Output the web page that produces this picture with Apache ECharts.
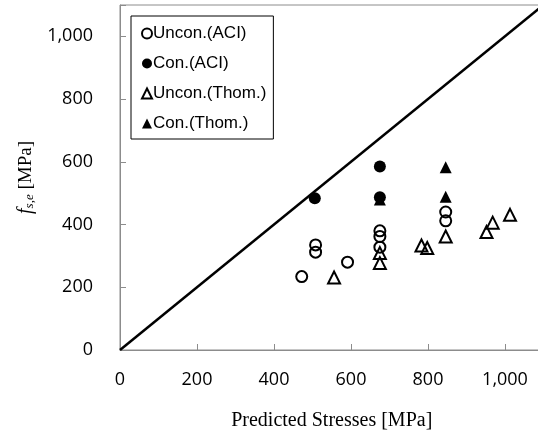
<!DOCTYPE html>
<html><head><meta charset="utf-8">
<script src="https://cdn.jsdelivr.net/npm/echarts@6/dist/echarts.min.js"></script>
<style>html,body{margin:0;padding:0;background:#fff}#c{width:538px;height:436px}</style>
</head><body><div id="c"></div>
<script>
const xTicks = [0, 200, 400, 600, 800, 1000];
const seriesNames = ['Uncon.(ACI)', 'Con.(ACI)', 'Uncon.(Thom.)', 'Con.(Thom.)'];
const unconACI = [[472,234],[508,335],[508,312],[591,280],[675,380],[675,362],[675,328],[846,440],[846,412]];
const conACI = [[506,484],[675,585],[675,487]];
const unconThom = [[556,231],[675,309],[675,277],[783,333],[798,325],[846,362],[952,376],[968,406],[1013,431]];
const conThom = [[675,480],[846,583],[846,489]];
const diagonal = [[0,0],[1100,1100]];

const fmt = v => v >= 1000 ? (Math.floor(v/1000) + ',' + String(v%1000).padStart(3,'0')) : String(v);
const chart = echarts.init(document.getElementById('c'));
const openStyle = {color:'transparent', borderColor:'#000', borderWidth:2, opacity:1};
const fillStyle = {color:'#000', borderColor:'#000', borderWidth:0, opacity:1};
chart.setOption({
  animation:false,
  grid:{left:120, top:5, right:-5.5, bottom:86, show:true, borderColor:'#8c8c8c', borderWidth:1,
    backgroundColor:'transparent', containLabel:false, outerBoundsMode:'none'},
  legend:{
    orient:'vertical', left:131, top:16, padding:[9,7,7,10], itemGap:13,
    itemWidth:10, itemHeight:10, borderColor:'#000', borderWidth:1, backgroundColor:'#fff',
    textStyle:{fontFamily:'Liberation Sans', fontSize:17, color:'#000', padding:[0,0,0,-4]},
    data: seriesNames
  },
  xAxis:{
    type:'value', min:0, max:1100, interval:200,
    axisLine:{lineStyle:{color:'#8c8c8c'}},
    axisTick:{inside:true, length:6, lineStyle:{color:'#8c8c8c'}},
    splitLine:{show:false},
    axisLabel:{margin:21, fontFamily:'Open Sans', fontSize:18, color:'#000',
      formatter: v => xTicks.includes(v) ? fmt(v) : ''},
    name:'Predicted Stresses [MPa]', nameLocation:'middle', nameGap:61,
    nameTextStyle:{fontFamily:'Liberation Serif', fontSize:20, color:'#000'}
  },
  yAxis:{
    type:'value', min:0, max:1100, interval:200,
    axisLine:{lineStyle:{color:'#8c8c8c'}},
    axisTick:{inside:true, length:6, lineStyle:{color:'#8c8c8c'}},
    splitLine:{show:false},
    axisLabel:{margin:27, fontFamily:'Open Sans', fontSize:18, color:'#000',
      formatter: v => v <= 1000 ? fmt(v) : ''},
    name:'{f|f}{s|s,e}{t| [MPa]}', nameLocation:'middle', nameGap:82,
    nameTextStyle:{
      rich:{
        f:{fontFamily:'Liberation Serif', fontStyle:'italic', fontSize:20, color:'#000'},
        s:{fontFamily:'Liberation Serif', fontStyle:'italic', fontSize:13, color:'#000', verticalAlign:'bottom', padding:[8,0,0,0]},
        t:{fontFamily:'Liberation Serif', fontSize:19, color:'#000'}
      }
    }
  },
  series:[
    {type:'line', data:diagonal, symbol:'none', lineStyle:{color:'#000', width:2.5}, silent:true, z:1},
    {name:seriesNames[0], type:'scatter', data:unconACI, symbol:'circle', symbolSize:11, itemStyle:openStyle, z:3},
    {name:seriesNames[1], type:'scatter', data:conACI, symbol:'circle', symbolSize:12, itemStyle:fillStyle, z:4},
    {name:seriesNames[2], type:'scatter', data:unconThom, symbol:'triangle', symbolSize:12, itemStyle:openStyle, z:3},
    {name:seriesNames[3], type:'scatter', data:conThom, symbol:'triangle', symbolSize:12, itemStyle:fillStyle, z:2}
  ]
});
</script></body></html>
